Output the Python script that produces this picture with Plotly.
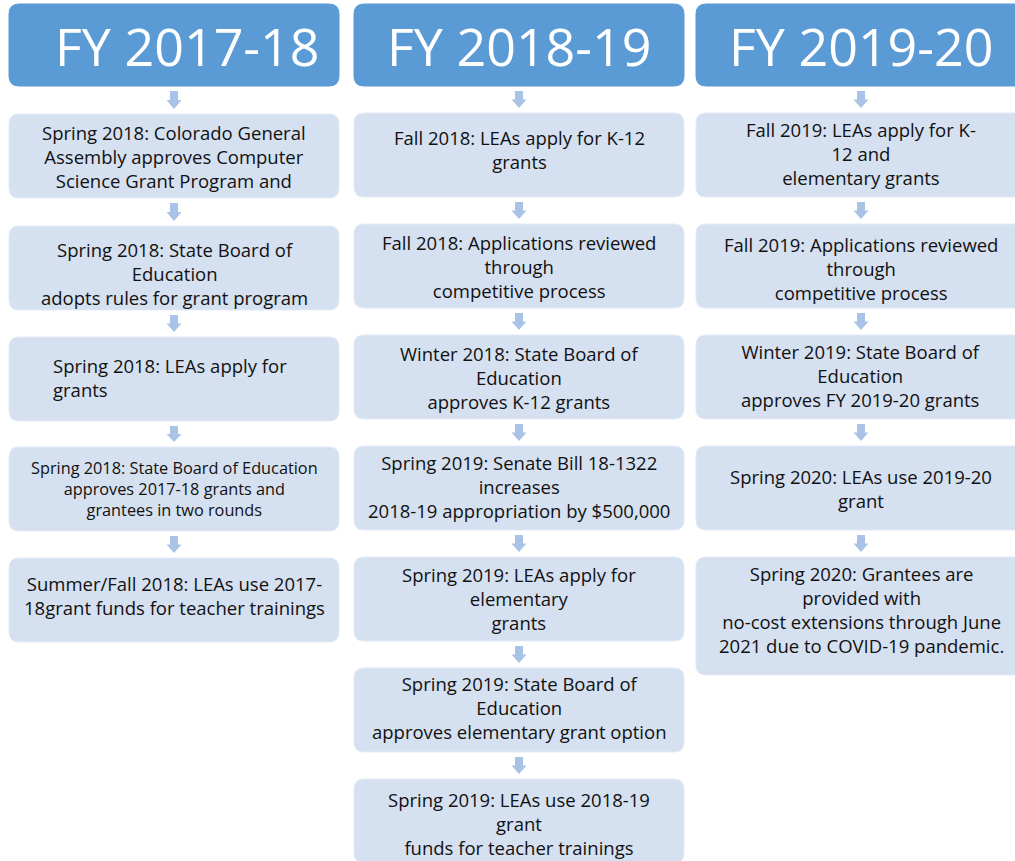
import plotly.graph_objects as go

# ---------------- data ----------------
headers = ["\u00a0\u00a0FY 2017-18", "FY 2018-19", "FY 2019-20"]

steps_1718 = [
    "Spring 2018: Colorado General<br>Assembly approves Computer<br>Science Grant Program and",
    "Spring 2018: State Board of<br>Education<br>adopts rules for grant program",
    "Spring 2018: LEAs apply for<br>grants",
    "Spring 2018: State Board of Education<br>approves 2017-18 grants and<br>grantees in two rounds",
    "Summer/Fall 2018: LEAs use 2017-<br>18grant funds for teacher trainings",
]
steps_1819 = [
    "Fall 2018: LEAs apply for K-12<br>grants",
    "Fall 2018: Applications reviewed<br>through<br>competitive process",
    "Winter 2018: State Board of<br>Education<br>approves K-12 grants",
    "Spring 2019: Senate Bill 18-1322<br>increases<br>2018-19 appropriation by $500,000",
    "Spring 2019: LEAs apply for<br>elementary<br>grants",
    "Spring 2019: State Board of<br>Education<br>approves elementary grant option",
    "Spring 2019: LEAs use 2018-19<br>grant<br>funds for teacher trainings",
]
steps_1920 = [
    "Fall 2019: LEAs apply for K-<br>12 and<br>elementary grants",
    "Fall 2019: Applications reviewed<br>through<br>competitive process",
    "Winter 2019: State Board of<br>Education<br>approves FY 2019-20 grants",
    "Spring 2020: LEAs use 2019-20<br>grant",
    "Spring 2020: Grantees are<br>provided with<br>no-cost extensions through June<br>2021 due to COVID-19 pandemic.",
]
columns = [steps_1718, steps_1819, steps_1920]

# ---------------- layout / style ----------------
W, H = 1015, 861
HEADER_FILL = "#5b9bd5"
BOX_FILL = "#d5e0f0"
BOX_LINE = "#e3eaf5"
ARROW_FILL = "#a9c3e6"
FONT = "Open Sans"

col_left = [9, 354, 696]
col_width = 330
header_top, header_bot = 4, 86
col_box_tops = [
    [114, 226, 337, 447, 558],
    [113, 224, 335, 446, 557, 668, 779],
    [113, 224, 335, 446, 557],
]
box_h = 84
tall = {(2, 4): 118}
text_shift = {  # (col, idx): y offset in px (positive = down)
    (0, 1): 5, (0, 2): -2, (0, 4): -5,
    (1, 0): -6, (1, 3): -2, (1, 4): -1, (1, 5): -3, (1, 6): 2,
    (2, 0): -2, (2, 1): 2, (2, 2): -2, (2, 4): -7,
}
small_font = {(0, 3): 16.3}
left_align = {(0, 2): 51}
BODY_SIZE = 18.5
HEAD_SIZE = 52


def rrect(x0, y0, x1, y1, r):
    return (f"M{x0+r},{y0} L{x1-r},{y0} Q{x1},{y0} {x1},{y0+r} "
            f"L{x1},{y1-r} Q{x1},{y1} {x1-r},{y1} L{x0+r},{y1} "
            f"Q{x0},{y1} {x0},{y1-r} L{x0},{y0+r} Q{x0},{y0} {x0+r},{y0} Z")


def arrow(cx, y0, y1):
    ym = (y0 + y1) / 2
    return (f"M{cx-4},{y0} L{cx+4},{y0} L{cx+4},{ym} L{cx+7.5},{ym} "
            f"L{cx},{y1} L{cx-7.5},{ym} L{cx-4},{ym} Z")


shapes = []
annotations = []

for c, steps in enumerate(columns):
    x0 = col_left[c]
    x1 = x0 + col_width
    cx = (x0 + x1) / 2
    shapes.append(dict(type="path", path=rrect(x0, header_top, x1, header_bot, 10),
                       fillcolor=HEADER_FILL, line=dict(color=HEADER_FILL, width=1),
                       xref="x", yref="y", layer="below"))
    annotations.append(dict(x=cx, y=(header_top + header_bot) / 2, xref="x", yref="y",
                            text=headers[c], showarrow=False,
                            font=dict(family=FONT, size=HEAD_SIZE, color="white"),
                            xanchor="center", yanchor="middle"))
    prev_bot = header_bot
    for i, txt in enumerate(steps):
        top = col_box_tops[c][i]
        bot = top + tall.get((c, i), box_h)
        shapes.append(dict(type="path", path=arrow(cx, prev_bot + 5, top - 5),
                           fillcolor=ARROW_FILL, line=dict(width=0),
                           xref="x", yref="y", layer="below"))
        shapes.append(dict(type="path", path=rrect(x0, top, x1, bot, 10),
                           fillcolor=BOX_FILL, line=dict(color=BOX_LINE, width=1),
                           xref="x", yref="y", layer="below"))
        ty = (top + bot) / 2 + text_shift.get((c, i), 0)
        fs = small_font.get((c, i), BODY_SIZE)
        if (c, i) in left_align:
            annotations.append(dict(x=left_align[(c, i)], y=ty, xref="x", yref="y",
                                    text=txt, showarrow=False, align="left",
                                    font=dict(family=FONT, size=fs, color="#111111"),
                                    xanchor="left", yanchor="middle"))
        else:
            annotations.append(dict(x=cx, y=ty, xref="x", yref="y",
                                    text=txt, showarrow=False, align="center",
                                    font=dict(family=FONT, size=fs, color="#111111"),
                                    xanchor="center", yanchor="middle"))
        prev_bot = bot

fig = go.Figure()
fig.update_layout(
    width=W, height=H,
    margin=dict(l=0, r=0, t=0, b=0),
    paper_bgcolor="white", plot_bgcolor="white",
    xaxis=dict(range=[0, W], visible=False, fixedrange=True),
    yaxis=dict(range=[H, 0], visible=False, fixedrange=True),
    shapes=shapes, annotations=annotations, showlegend=False,
)
fig.write_html(
    "out.html",
    config={"displayModeBar": False},
    post_script="document.body.style.margin='0';document.body.style.overflow='hidden';",
)
